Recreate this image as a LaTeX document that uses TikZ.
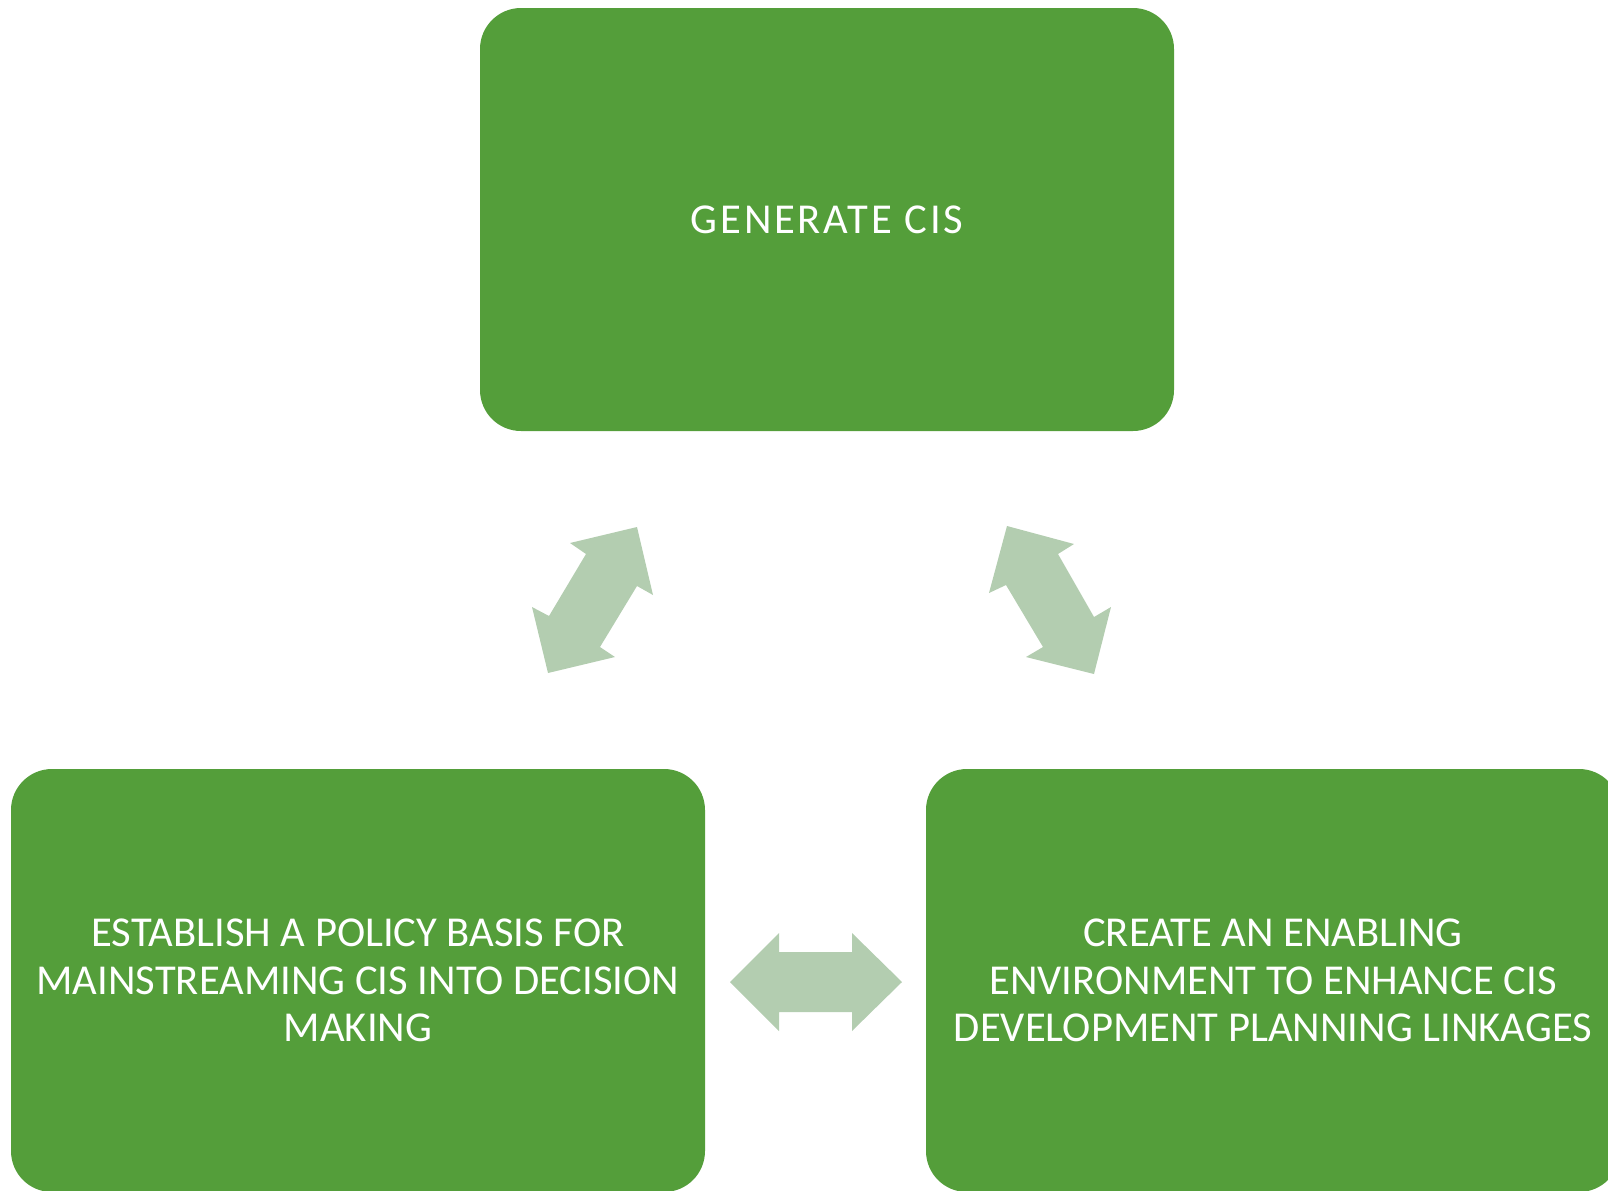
\documentclass[tikz,border=0pt]{standalone}
\usepackage{fontspec}
\setmainfont{Carlito}
\newfontfamily\widecarlito[LetterSpace=6.5]{Carlito}
\definecolor{boxgreen}{RGB}{84,158,58}
\definecolor{arrowgreen}{RGB}{179,205,176}
\tikzset{
  greenbox/.style={rectangle, rounded corners=20.5pt, fill=boxgreen, draw=none,
    minimum width=347pt, minimum height=211.5pt, text=white, align=center,
    font=\fontsize{21.3}{23.6}\selectfont, inner sep=0pt},
  blockarrow/.style={fill=arrowgreen, draw=none}
}
\begin{document}
\begin{tikzpicture}[x=0.5pt, y=-0.5pt]
\useasboundingbox (0,0) rectangle (1608,1190);
\clip (0,0) rectangle (1608,1190);
\node[greenbox, font=\widecarlito\fontsize{21.3}{23.6}\selectfont] (gen) at (827,219.5) {GENERATE CIS};
\node[greenbox] (pol) at (358,980.5) {ESTABLISH A POLICY BASIS FOR\\MAINSTREAMING CIS INTO DECISION\\MAKING};
\node[greenbox] (env) at (1273,980.5) {CREATE AN ENABLING\\ENVIRONMENT TO ENHANCE CIS\\DEVELOPMENT PLANNING LINKAGES};
% left diagonal double arrow
\fill[blockarrow] (637,527) -- (653,595) -- (637,586) -- (600,647) -- (615,657) -- (548,673) -- (532,607) -- (549,616) -- (586,554) -- (570,543) -- cycle;
% right diagonal double arrow
\fill[blockarrow] (1007,526) -- (1074,544) -- (1058,554) -- (1094,617) -- (1111,607) -- (1094,674) -- (1026,657) -- (1043,647) -- (1006,585) -- (989,593) -- cycle;
% horizontal double arrow
\fill[blockarrow] (730,982) -- (779,933) -- (779,952) -- (852,952) -- (852,933) -- (902,982) -- (852,1031) -- (852,1012) -- (779,1012) -- (779,1031) -- cycle;
\end{tikzpicture}
\end{document}
